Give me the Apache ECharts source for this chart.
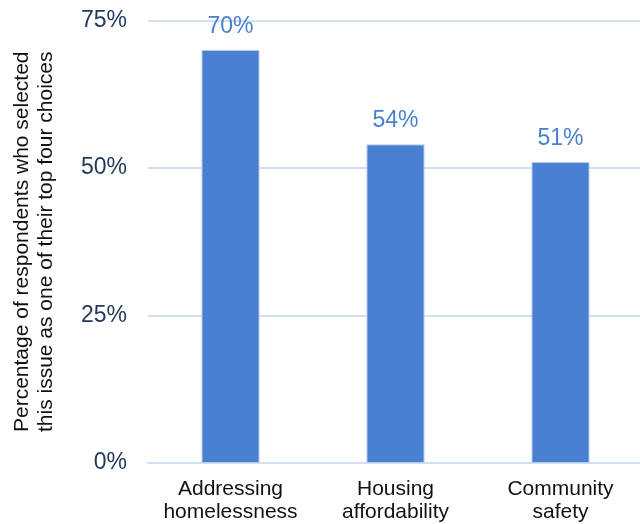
<!DOCTYPE html>
<html>
<head>
<meta charset="utf-8">
<style>
  html, body { margin: 0; padding: 0; background: #ffffff; }
  #chart { width: 640px; height: 524px; }
</style>
<script src="https://cdn.jsdelivr.net/npm/echarts@6/dist/echarts.min.js"></script>
</head>
<body>
<div id="chart"></div>
<script>
// Top issues chosen by respondents
const categories = ['Addressing\nhomelessness', 'Housing\naffordability', 'Community\nsafety'];
const shares = [70, 54, 51];
const axisTitle = 'Percentage of respondents who selected\nthis issue as one of their top four choices';

const FONT = 'Liberation Sans, Arial, Helvetica, sans-serif';
const chart = echarts.init(document.getElementById('chart'), null, { renderer: 'canvas' });

chart.setOption({
  animation: false,
  backgroundColor: '#ffffff',
  grid: {
    left: 148, top: 20.5, bottom: 61, width: 495,
    containLabel: false, outerBoundsMode: 'none'
  },
  xAxis: {
    type: 'category',
    data: categories,
    axisLine: { show: true, lineStyle: { color: '#d2dff3', width: 2 } },
    axisTick: { show: false },
    axisLabel: {
      interval: 0, hideOverlap: false,
      color: '#111111', fontFamily: FONT, fontSize: 21, lineHeight: 23, margin: 15
    }
  },
  yAxis: {
    type: 'value',
    min: 0, max: 75, interval: 25,
    name: axisTitle,
    nameLocation: 'middle',
    nameGap: 90,
    nameTextStyle: { color: '#111111', fontFamily: FONT, fontSize: 21, lineHeight: 24 },
    axisLine: { show: false },
    axisTick: { show: false },
    axisLabel: {
      formatter: '{value}%', color: '#243a5c', fontFamily: FONT, fontSize: 23, margin: 21
    },
    splitLine: { show: true, lineStyle: { color: '#d2dff3', width: 2 } }
  },
  series: [{
    type: 'bar',
    data: shares,
    barWidth: 58,
    itemStyle: { color: '#4a80d2', borderColor: '#b3c9ee', borderWidth: 1 },
    label: {
      show: true, position: 'top', distance: 12,
      formatter: '{c}%', color: '#4a80d2', fontFamily: FONT, fontSize: 23
    }
  }]
});
</script>
</body>
</html>
